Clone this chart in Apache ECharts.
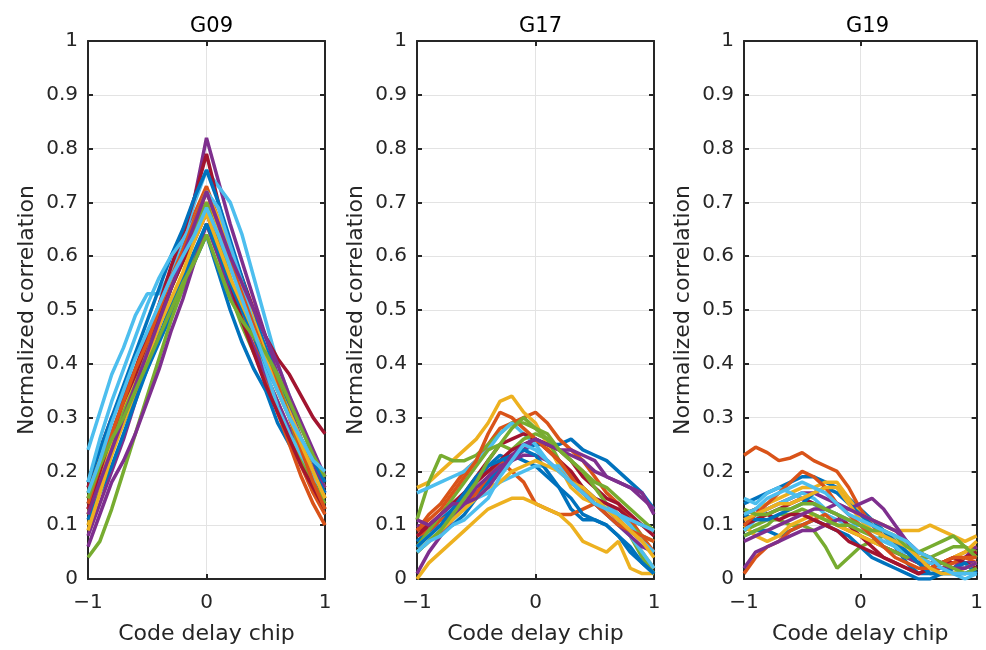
<!DOCTYPE html>
<html>
<head>
<meta charset="utf-8">
<script src="https://cdn.jsdelivr.net/npm/echarts@6/dist/echarts.min.js"></script>
<style>
  html, body { margin: 0; padding: 0; background: #fff; }
  #main { width: 986px; height: 650px; }
</style>
</head>
<body>
<div id="main"></div>
<script>
// code delay in chips
const xs = [-1, -0.9, -0.8, -0.7, -0.6, -0.5, -0.4, -0.3, -0.2, -0.1, 0, 0.1, 0.2, 0.3, 0.4, 0.5, 0.6, 0.7, 0.8, 0.9, 1];

const titles = ['G09', 'G17', 'G19'];
const yTicks = [0, 0.1, 0.2, 0.3, 0.4, 0.5, 0.6, 0.7, 0.8, 0.9, 1];
const xTicks = [-1, 0, 1];

// MATLAB default color order
const colors = ['#0072BD', '#D95319', '#EDB120', '#7E2F8E', '#77AC30', '#4DBEEE', '#A2142F'];

const g09 = [
    [0.14,0.19,0.24,0.29,0.34,0.39,0.44,0.49,0.54,0.59,0.64,0.57,0.50,0.44,0.39,0.35,0.29,0.25,0.22,0.19,0.15],
    [0.15,0.21,0.27,0.33,0.39,0.45,0.51,0.57,0.62,0.68,0.73,0.67,0.60,0.52,0.45,0.38,0.31,0.25,0.19,0.14,0.10],
    [0.10,0.17,0.24,0.30,0.36,0.42,0.48,0.54,0.59,0.65,0.70,0.65,0.59,0.53,0.47,0.42,0.37,0.32,0.26,0.21,0.17],
    [0.08,0.14,0.20,0.26,0.33,0.40,0.47,0.54,0.61,0.71,0.82,0.74,0.66,0.59,0.52,0.45,0.38,0.32,0.26,0.21,0.17],
    [0.04,0.07,0.13,0.20,0.27,0.34,0.41,0.48,0.54,0.60,0.66,0.60,0.53,0.47,0.42,0.38,0.33,0.27,0.22,0.17,0.13],
    [0.24,0.31,0.38,0.43,0.49,0.53,0.53,0.57,0.63,0.70,0.76,0.73,0.70,0.64,0.56,0.48,0.40,0.34,0.28,0.23,0.19],
    [0.17,0.24,0.30,0.34,0.39,0.45,0.51,0.58,0.64,0.71,0.79,0.70,0.62,0.56,0.50,0.45,0.41,0.38,0.34,0.30,0.27],
    [0.18,0.24,0.30,0.36,0.42,0.48,0.54,0.60,0.65,0.71,0.76,0.70,0.63,0.56,0.49,0.43,0.37,0.31,0.26,0.22,0.18],
    [0.13,0.19,0.25,0.31,0.37,0.43,0.49,0.55,0.60,0.65,0.70,0.63,0.56,0.49,0.43,0.37,0.31,0.26,0.21,0.16,0.12],
    [0.12,0.19,0.26,0.32,0.37,0.43,0.49,0.55,0.61,0.66,0.72,0.67,0.61,0.55,0.48,0.42,0.36,0.31,0.26,0.20,0.15],
    [0.06,0.12,0.18,0.22,0.27,0.33,0.39,0.46,0.52,0.59,0.66,0.60,0.54,0.48,0.43,0.38,0.33,0.28,0.24,0.20,0.16],
    [0.16,0.22,0.27,0.31,0.36,0.42,0.48,0.54,0.59,0.65,0.70,0.63,0.56,0.50,0.45,0.41,0.37,0.30,0.23,0.18,0.14],
    [0.18,0.26,0.33,0.39,0.45,0.51,0.56,0.60,0.63,0.67,0.72,0.69,0.62,0.55,0.47,0.39,0.32,0.27,0.23,0.19,0.16],
    [0.13,0.20,0.27,0.33,0.38,0.44,0.49,0.54,0.59,0.63,0.68,0.62,0.55,0.48,0.42,0.36,0.31,0.26,0.21,0.17,0.13],
    [0.11,0.16,0.21,0.27,0.33,0.39,0.45,0.51,0.56,0.61,0.66,0.61,0.55,0.50,0.45,0.40,0.35,0.30,0.25,0.20,0.16],
    [0.14,0.21,0.27,0.33,0.39,0.44,0.50,0.56,0.61,0.67,0.72,0.66,0.59,0.53,0.47,0.41,0.36,0.30,0.24,0.18,0.13],
    [0.09,0.16,0.23,0.29,0.35,0.41,0.47,0.52,0.57,0.63,0.68,0.62,0.56,0.51,0.46,0.41,0.35,0.30,0.25,0.20,0.15],
    [0.12,0.18,0.24,0.30,0.36,0.42,0.48,0.54,0.60,0.66,0.72,0.66,0.60,0.55,0.50,0.45,0.40,0.34,0.29,0.24,0.19],
    [0.15,0.21,0.26,0.30,0.35,0.40,0.45,0.50,0.55,0.59,0.64,0.58,0.52,0.48,0.45,0.42,0.38,0.33,0.28,0.23,0.19],
    [0.16,0.22,0.29,0.35,0.41,0.46,0.51,0.56,0.60,0.64,0.69,0.64,0.58,0.52,0.46,0.40,0.35,0.30,0.26,0.22,0.20]
];

const g17 = [
    [0.07,0.09,0.11,0.13,0.15,0.18,0.21,0.23,0.22,0.24,0.25,0.25,0.25,0.26,0.24,0.23,0.22,0.20,0.18,0.16,0.13],
    [0.09,0.12,0.14,0.17,0.20,0.22,0.25,0.28,0.29,0.30,0.31,0.29,0.26,0.24,0.22,0.19,0.16,0.14,0.11,0.08,0.05],
    [0.17,0.18,0.20,0.22,0.24,0.26,0.29,0.33,0.34,0.31,0.29,0.25,0.21,0.17,0.15,0.14,0.13,0.11,0.08,0.05,0.02],
    [0.10,0.09,0.10,0.12,0.14,0.16,0.18,0.20,0.22,0.24,0.26,0.25,0.24,0.23,0.22,0.20,0.19,0.18,0.17,0.15,0.13],
    [0.11,0.18,0.23,0.22,0.22,0.23,0.25,0.27,0.29,0.29,0.28,0.26,0.22,0.19,0.17,0.15,0.13,0.11,0.08,0.04,0.01],
    [0.16,0.17,0.18,0.19,0.20,0.22,0.24,0.27,0.29,0.27,0.25,0.22,0.20,0.18,0.16,0.14,0.12,0.10,0.08,0.05,0.02],
    [0.09,0.10,0.12,0.14,0.16,0.19,0.22,0.25,0.26,0.27,0.26,0.25,0.24,0.22,0.19,0.17,0.15,0.14,0.12,0.10,0.08],
    [0.05,0.07,0.09,0.10,0.12,0.15,0.18,0.21,0.23,0.22,0.21,0.19,0.17,0.13,0.11,0.11,0.10,0.08,0.05,0.03,0.01],
    [0.08,0.09,0.11,0.12,0.13,0.16,0.19,0.22,0.20,0.18,0.14,0.13,0.12,0.12,0.13,0.14,0.13,0.11,0.09,0.07,0.05],
    [0.00,0.03,0.05,0.07,0.09,0.11,0.13,0.14,0.15,0.15,0.14,0.13,0.12,0.10,0.07,0.06,0.05,0.07,0.02,0.01,0.01],
    [0.01,0.05,0.08,0.11,0.14,0.17,0.19,0.21,0.22,0.23,0.23,0.22,0.20,0.18,0.16,0.14,0.12,0.10,0.08,0.06,0.05],
    [0.06,0.09,0.12,0.15,0.18,0.21,0.24,0.25,0.24,0.26,0.27,0.26,0.24,0.22,0.20,0.17,0.14,0.12,0.10,0.08,0.07],
    [0.06,0.08,0.10,0.11,0.13,0.15,0.16,0.18,0.19,0.20,0.21,0.21,0.21,0.19,0.17,0.15,0.14,0.12,0.10,0.07,0.05],
    [0.08,0.10,0.12,0.14,0.16,0.18,0.20,0.22,0.24,0.25,0.26,0.24,0.22,0.20,0.17,0.15,0.14,0.13,0.11,0.10,0.09],
    [0.06,0.08,0.10,0.13,0.16,0.19,0.21,0.22,0.23,0.24,0.23,0.20,0.17,0.15,0.12,0.11,0.10,0.08,0.06,0.03,0.01],
    [0.09,0.11,0.13,0.16,0.19,0.22,0.27,0.31,0.30,0.28,0.26,0.24,0.22,0.19,0.16,0.14,0.12,0.10,0.09,0.08,0.07],
    [0.05,0.07,0.09,0.11,0.13,0.15,0.17,0.18,0.20,0.21,0.22,0.21,0.20,0.18,0.17,0.15,0.13,0.11,0.09,0.07,0.04],
    [0.11,0.10,0.12,0.14,0.14,0.15,0.17,0.20,0.23,0.25,0.26,0.25,0.24,0.24,0.23,0.22,0.19,0.18,0.17,0.16,0.12],
    [0.05,0.07,0.09,0.12,0.15,0.18,0.22,0.25,0.28,0.30,0.28,0.27,0.24,0.22,0.20,0.18,0.17,0.15,0.13,0.11,0.09],
    [0.05,0.07,0.08,0.10,0.11,0.13,0.15,0.19,0.22,0.25,0.24,0.22,0.20,0.18,0.16,0.14,0.13,0.12,0.11,0.10,0.09]
];

const g19 = [
    [0.14,0.15,0.16,0.17,0.18,0.19,0.19,0.18,0.17,0.15,0.13,0.11,0.09,0.06,0.03,0.01,0.01,0.01,0.02,0.02,0.03],
    [0.23,0.245,0.235,0.22,0.225,0.235,0.22,0.21,0.20,0.17,0.13,0.10,0.08,0.06,0.05,0.04,0.03,0.03,0.04,0.05,0.06],
    [0.12,0.13,0.14,0.15,0.16,0.17,0.17,0.18,0.18,0.15,0.12,0.11,0.10,0.09,0.09,0.09,0.10,0.09,0.08,0.07,0.08],
    [0.11,0.12,0.13,0.14,0.15,0.16,0.16,0.15,0.14,0.13,0.14,0.15,0.13,0.10,0.07,0.04,0.02,0.01,0.02,0.04,0.06],
    [0.09,0.10,0.11,0.11,0.10,0.10,0.09,0.06,0.02,0.04,0.06,0.07,0.08,0.07,0.05,0.04,0.04,0.05,0.06,0.06,0.05],
    [0.15,0.14,0.16,0.17,0.16,0.15,0.14,0.12,0.11,0.10,0.10,0.09,0.08,0.06,0.04,0.03,0.02,0.01,0.01,0.00,0.01],
    [0.12,0.13,0.12,0.13,0.14,0.15,0.14,0.13,0.12,0.10,0.08,0.06,0.04,0.03,0.02,0.01,0.02,0.03,0.03,0.04,0.05],
    [0.08,0.09,0.09,0.08,0.09,0.10,0.11,0.10,0.09,0.08,0.06,0.04,0.03,0.02,0.01,0.00,0.00,0.01,0.01,0.01,0.02],
    [0.01,0.04,0.06,0.07,0.09,0.10,0.11,0.12,0.10,0.09,0.08,0.07,0.06,0.05,0.04,0.03,0.02,0.02,0.03,0.04,0.03],
    [0.10,0.08,0.07,0.08,0.10,0.11,0.12,0.11,0.10,0.09,0.08,0.07,0.06,0.05,0.04,0.03,0.02,0.03,0.04,0.05,0.07],
    [0.02,0.05,0.06,0.07,0.08,0.09,0.09,0.10,0.11,0.11,0.10,0.08,0.06,0.05,0.04,0.03,0.03,0.02,0.02,0.03,0.03],
    [0.08,0.09,0.10,0.12,0.12,0.13,0.12,0.11,0.10,0.10,0.09,0.08,0.06,0.05,0.04,0.05,0.06,0.07,0.08,0.06,0.04],
    [0.09,0.11,0.13,0.14,0.15,0.16,0.15,0.13,0.12,0.11,0.10,0.08,0.07,0.06,0.05,0.04,0.03,0.02,0.01,0.01,0.02],
    [0.10,0.11,0.12,0.11,0.12,0.12,0.11,0.10,0.09,0.07,0.06,0.05,0.04,0.03,0.02,0.01,0.02,0.03,0.04,0.03,0.02],
    [0.12,0.11,0.11,0.12,0.13,0.14,0.16,0.17,0.16,0.14,0.12,0.10,0.09,0.07,0.05,0.03,0.01,0.01,0.02,0.03,0.01],
    [0.10,0.12,0.14,0.16,0.18,0.20,0.19,0.17,0.14,0.12,0.10,0.08,0.06,0.04,0.03,0.02,0.02,0.03,0.04,0.04,0.04],
    [0.11,0.12,0.13,0.14,0.14,0.15,0.16,0.17,0.17,0.14,0.11,0.09,0.08,0.07,0.06,0.04,0.02,0.01,0.01,0.02,0.03],
    [0.07,0.08,0.09,0.10,0.11,0.12,0.13,0.13,0.14,0.13,0.12,0.11,0.10,0.09,0.07,0.05,0.04,0.03,0.02,0.02,0.03],
    [0.13,0.12,0.12,0.13,0.13,0.14,0.14,0.13,0.12,0.11,0.10,0.09,0.09,0.08,0.06,0.05,0.04,0.03,0.02,0.01,0.02],
    [0.12,0.13,0.15,0.16,0.17,0.18,0.17,0.16,0.14,0.12,0.11,0.10,0.09,0.08,0.07,0.05,0.04,0.02,0.01,0.01,0.01]
];

const panels = [g09, g17, g19];
const gridLeft = [88, 417, 744];
const gridWidth = 237;
const font = '"DejaVu Sans", sans-serif';
const axisColor = '#262626';

function fmt(v) {
    return v < 0 ? '\u2212' + Math.abs(v) : String(v);
}

let grids = [], xAxes = [], yAxes = [], titleList = [], series = [];

panels.forEach(function (lines, p) {
    grids.push({ left: gridLeft[p], top: 41, width: gridWidth, height: 540 });
    titleList.push({
        text: titles[p],
        left: gridLeft[p] + gridWidth / 2,
        top: 11,
        textAlign: 'center',
        textStyle: { fontFamily: font, fontSize: 21, fontWeight: 'normal', color: '#000' }
    });
    // bottom x axis with labels
    xAxes.push({
        gridIndex: p, type: 'value', min: xTicks[0], max: xTicks[2], interval: 1,
        name: 'Code delay chip', nameLocation: 'middle', nameGap: 44,
        nameTextStyle: { fontFamily: font, fontSize: 22, color: axisColor },
        axisLine: { onZero: false, lineStyle: { color: axisColor, width: 2 } },
        axisTick: { inside: true, length: 5, lineStyle: { color: axisColor, width: 2 } },
        axisLabel: { fontFamily: font, fontSize: 20, color: axisColor, margin: 14, formatter: fmt },
        splitLine: { show: true, lineStyle: { color: '#e3e3e3', width: 1 } }
    });
    // top box edge
    xAxes.push({
        gridIndex: p, type: 'value', min: xTicks[0], max: xTicks[2], interval: 1, position: 'top',
        axisLine: { onZero: false, lineStyle: { color: axisColor, width: 2 } },
        axisTick: { inside: true, length: 5, lineStyle: { color: axisColor, width: 2 } },
        axisLabel: { show: false }, splitLine: { show: false }
    });
    yAxes.push({
        gridIndex: p, type: 'value', min: yTicks[0], max: yTicks[yTicks.length - 1], interval: 0.1,
        name: 'Normalized correlation', nameLocation: 'middle', nameGap: 50,
        nameTextStyle: { fontFamily: font, fontSize: 22, color: axisColor },
        axisLine: { show: true, onZero: false, lineStyle: { color: axisColor, width: 2 } },
        axisTick: { show: true, inside: true, length: 5, lineStyle: { color: axisColor, width: 2 } },
        axisLabel: { fontFamily: font, fontSize: 20, color: axisColor, margin: 10, formatter: fmt },
        splitLine: { show: true, lineStyle: { color: '#e3e3e3', width: 1 } }
    });
    // right box edge
    yAxes.push({
        gridIndex: p, type: 'value', min: 0, max: 1, interval: 0.1, position: 'right',
        axisLine: { show: true, onZero: false, lineStyle: { color: axisColor, width: 2 } },
        axisTick: { show: true, inside: true, length: 5, lineStyle: { color: axisColor, width: 2 } },
        axisLabel: { show: false }, splitLine: { show: false }
    });
    lines.forEach(function (ys, i) {
        series.push({
            type: 'line',
            xAxisIndex: p * 2,
            yAxisIndex: p * 2,
            showSymbol: false,
            symbol: 'none',
            color: colors[i % colors.length],
            lineStyle: { width: 3.5 },
            data: xs.map(function (x, k) { return [x, ys[k]]; })
        });
    });
});

let option = {
    backgroundColor: '#fff',
    animation: false,
    title: titleList,
    grid: grids,
    xAxis: xAxes,
    yAxis: yAxes,
    series: series
};
echarts.init(document.getElementById('main')).setOption(option);
</script>
</body>
</html>
